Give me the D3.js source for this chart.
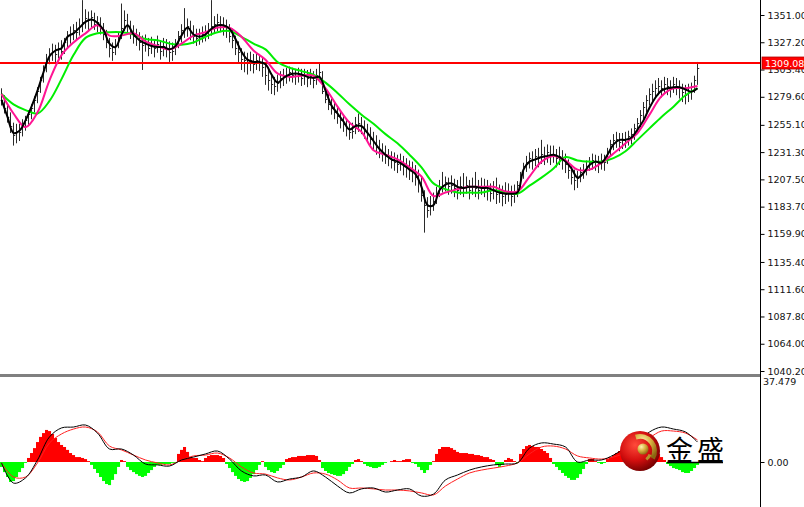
<!DOCTYPE html>
<html><head><meta charset="utf-8">
<script src="https://cdn.jsdelivr.net/npm/d3@7"></script>
<style>html,body{margin:0;padding:0;background:#fff;overflow:hidden}</style>
</head><body>
<svg id="c" width="804" height="507"></svg>
<script>
// ---------- DATA ----------
const high = [
1287,1281,1274,1266,1257,1256,1256,1260,1263,1268,
1273,1280,1288,1297,1307,1317,1322,1326,1325,1327,
1329,1331,1337,1341,1343,1345,1348,1364,1356,1354,
1355,1353,1350,1349,1344,1338,1331,1327,1330,1336,
1361,1355,1352,1346,1342,1339,1336,1333,1334,1331,
1332,1330,1333,1329,1331,1330,1328,1327,1330,1337,
1343,1357,1348,1346,1342,1339,1339,1341,1342,1344,
1364,1350,1352,1350,1349,1347,1343,1339,1333,1328,
1322,1319,1318,1319,1317,1318,1317,1314,1310,1304,
1300,1297,1299,1302,1304,1305,1306,1305,1304,1305,
1304,1304,1303,1304,1302,1304,1309,1302,1288,1282,
1278,1275,1271,1268,1264,1261,1258,1257,1262,1265,
1262,1259,1256,1253,1249,1246,1242,1239,1237,1234,
1232,1231,1229,1230,1228,1226,1224,1223,1220,1216,
1210,1198,1192,1193,1196,1201,1207,1214,1210,1209,
1211,1208,1207,1210,1213,1210,1207,1209,1214,1207,
1209,1208,1207,1204,1206,1209,1203,1202,1205,1204,
1202,1203,1206,1214,1222,1228,1231,1232,1234,1235,
1242,1236,1238,1237,1237,1234,1236,1233,1230,1225,
1220,1216,1215,1218,1221,1224,1227,1230,1229,1228,
1230,1229,1235,1242,1247,1249,1248,1248,1249,1250,
1252,1256,1261,1268,1275,1281,1287,1291,1294,1296,
1294,1297,1296,1294,1297,1296,1294,1291,1290,1291,
1292,1298,1310];
const low = [
1272,1265,1257,1248,1237,1239,1241,1245,1250,1255,
1260,1266,1274,1283,1292,1301,1308,1311,1309,1313,
1312,1317,1323,1326,1329,1330,1333,1336,1339,1338,
1340,1338,1336,1334,1329,1322,1314,1311,1316,1322,
1330,1337,1335,1330,1326,1324,1320,1303,1319,1315,
1317,1314,1318,1312,1315,1314,1310,1311,1316,1322,
1327,1331,1332,1329,1326,1324,1325,1327,1328,1330,
1333,1335,1337,1336,1333,1331,1327,1322,1316,1310,
1303,1301,1299,1302,1300,1303,1302,1297,1290,1285,
1282,1281,1284,1287,1289,1291,1293,1292,1290,1292,
1289,1290,1288,1290,1287,1290,1293,1282,1274,1268,
1264,1260,1256,1252,1249,1245,1242,1243,1247,1249,
1247,1243,1240,1237,1233,1229,1226,1223,1221,1219,
1217,1215,1213,1215,1211,1209,1207,1205,1202,1196,
1188,1161,1174,1176,1180,1186,1192,1196,1197,1194,
1195,1192,1190,1194,1192,1195,1190,1194,1192,1190,
1194,1192,1189,1188,1190,1186,1187,1184,1186,1188,
1184,1187,1192,1200,1208,1214,1217,1216,1219,1218,
1221,1220,1222,1220,1222,1218,1220,1216,1213,1208,
1203,1198,1200,1205,1208,1211,1215,1216,1215,1213,
1216,1215,1221,1228,1233,1235,1232,1234,1235,1237,
1238,1242,1247,1253,1260,1266,1272,1276,1279,1281,
1279,1283,1281,1279,1283,1281,1278,1275,1273,1275,
1277,1283,1290];
const close = [
1277,1270,1262,1254,1246,1250,1249,1256,1259,1265,
1270,1277,1285,1294,1303,1313,1316,1320,1317,1322,
1320,1327,1333,1334,1338,1336,1341,1345,1348,1347,
1349,1343,1345,1340,1334,1327,1322,1319,1325,1331,
1340,1347,1341,1338,1333,1331,1327,1325,1327,1322,
1325,1322,1326,1320,1324,1322,1319,1320,1326,1333,
1338,1340,1341,1336,1333,1331,1333,1334,1336,1338,
1341,1343,1345,1343,1341,1338,1333,1329,1322,1319,
1313,1312,1310,1312,1308,1312,1310,1306,1299,1294,
1291,1289,1292,1296,1298,1299,1301,1299,1298,1299,
1296,1298,1296,1298,1294,1299,1301,1285,1278,1273,
1270,1266,1263,1259,1256,1252,1249,1250,1256,1257,
1254,1250,1247,1243,1240,1236,1233,1230,1228,1226,
1224,1223,1221,1223,1219,1217,1216,1214,1210,1205,
1194,1185,1181,1184,1189,1196,1202,1203,1205,1202,
1203,1200,1198,1202,1200,1203,1198,1202,1200,1198,
1202,1200,1198,1196,1198,1195,1196,1193,1195,1196,
1193,1196,1203,1211,1219,1223,1226,1224,1228,1226,
1230,1228,1231,1228,1230,1226,1228,1224,1221,1216,
1210,1207,1209,1214,1216,1219,1223,1224,1223,1221,
1224,1223,1231,1238,1242,1243,1240,1242,1243,1245,
1247,1252,1257,1264,1271,1277,1282,1285,1287,1289,
1287,1291,1289,1287,1291,1289,1287,1284,1281,1284,
1285,1294,1305];

// moving averages (sampled: fast every 2 bars, mid/slow every 4 bars)
const maFastStep = 2;
const maFast = [
1277,1262,1248,1250,1259,1271,1285,1301,1315,1320,
1322,1332,1335,1340,1345,1347,1344,1338,1326,1323,
1334,1342,1334,1329,1326,1324,1323,1323,1321,1324,
1333,1340,1334,1332,1334,1339,1342,1342,1339,1330,
1319,1312,1310,1310,1308,1299,1292,1296,1299,1300,
1299,1297,1296,1297,1285,1272,1265,1258,1251,1254,
1254,1248,1241,1234,1229,1225,1223,1220,1216,1212,
1201,1185,1185,1198,1203,1204,1201,1200,1201,1201,
1200,1200,1198,1196,1195,1195,1196,1216,1223,1225,
1227,1228,1229,1227,1223,1217,1209,1213,1220,1223,
1222,1229,1238,1242,1242,1244,1251,1259,1270,1279,
1285,1287,1288,1288,1286,1284,1287];
const maStep = 4;
const maMid = [
1282,1265,1253,1266,1294,1316,1327,1335,1342,1333,
1333,1335,1328,1324,1321,1326,1333,1336,1340,1340,
1332,1320,1312,1300,1297,1298,1298,1287,1271,1257,
1249,1233,1229,1225,1218,1210,1193,1196,1199,1201,
1201,1201,1197,1197,1210,1223,1228,1224,1216,1216,
1222,1230,1239,1248,1264,1280,1287,1287,1289];
const maSlow = [
1282,1273,1268,1265,1276,1295,1316,1331,1335,1336,
1336,1334,1330,1329,1326,1325,1327,1332,1336,1337,
1332,1326,1321,1310,1305,1302,1299,1292,1283,1273,
1264,1256,1247,1239,1229,1218,1204,1199,1196,1196,
1196,1198,1196,1195,1202,1209,1217,1227,1224,1223,
1223,1226,1232,1242,1252,1262,1271,1281,1287];

// MACD panel
const macdHist = [
-2.2,-4.5,-6.7,-8.9,-8.5,-6.7,-4.5,-2.7,-0.4,1.8,
4.0,6.2,8.9,11.2,12.9,14.3,13.8,12.5,10.7,8.9,
7.6,6.7,5.4,4.0,3.1,2.2,2.2,1.8,1.3,0.4,
-1.3,-3.1,-4.9,-6.7,-8.5,-9.8,-10.3,-8.0,-5.4,-2.2,
0.9,0.4,-2.2,-3.6,-4.5,-5.4,-6.2,-6.7,-6.2,-4.9,
-3.6,-2.2,-1.3,-1.3,-0.9,-0.9,-0.9,-0.4,-0.4,3.6,
5.4,6.7,4.5,2.2,1.8,1.8,0.9,0.4,1.8,2.7,
3.1,3.1,3.1,2.7,1.8,-0.9,-2.7,-4.5,-6.2,-7.6,
-8.5,-8.9,-8.5,-7.1,-5.4,-3.6,-1.3,0.4,-2.2,-3.6,
-4.5,-4.9,-4.0,-2.7,-1.3,1.3,1.8,2.2,2.2,2.7,
2.7,2.7,3.1,3.1,3.1,2.7,0.9,-2.7,-4.0,-4.9,
-5.4,-5.8,-6.2,-6.2,-5.4,-4.0,-2.2,-0.9,0.9,1.3,
0.4,-0.9,-1.8,-2.2,-2.7,-2.7,-2.2,-1.3,-0.4,0,
0.4,0.9,0.4,0.4,0.9,1.3,1.3,-0.4,-0.9,-2.2,
-3.6,-4.9,-3.6,-1.3,0.4,3.6,5.8,6.7,6.7,6.7,
6.2,5.4,4.5,4.0,4.0,4.0,3.6,3.6,3.1,3.1,
2.7,2.2,2.2,1.3,0.9,-1.3,-2.2,-1.3,0.9,1.8,
1.3,0.4,-0.4,3.6,5.8,7.1,7.6,7.1,6.7,6.7,
5.8,4.9,4.0,1.8,-0.9,-2.2,-3.6,-4.9,-6.2,-7.1,
-8.0,-8.0,-7.1,-5.4,-3.1,-0.9,1.3,1.3,0.4,-0.4,
-0.9,-0.4,1.3,2.2,3.1,4.0,4.9,5.4,5.8,6.2,
6.7,7.1,7.1,7.1,7.1,6.7,6.2,5.4,4.9,3.6,
2.2,0.9,-0.9,-1.8,-2.7,-3.1,-3.6,-4.5,-4.9,-4.9,
-4.0,-2.7,-1.3];
const macdStep = 4;
const macdMain = [
-0.4,-9.4,-7.1,0.9,11.2,15.2,15.6,16.5,12.9,5.8,
5.8,3.1,-0.9,-1.3,-1.8,0.9,2.2,3.6,4.9,1.3,
-4.0,-6.2,-5.8,-8.9,-7.6,-6.7,-4.0,-6.7,-10.7,-13.8,
-12.0,-11.6,-13.4,-12.5,-12.0,-15.2,-14.3,-8.0,-5.8,-3.6,
-2.2,-1.3,-0.9,-0.4,6.2,8.5,8.0,6.7,0.0,0.9,
0.9,3.1,6.2,8.9,13.4,15.6,14.7,13.4,8.9];
const macdSignal = [
-0.4,-6.7,-6.7,-0.4,8.5,12.5,14.7,15.6,13.4,7.1,
5.4,3.1,0.9,-0.4,-1.3,0.9,2.7,3.1,4.0,1.8,
-2.2,-4.9,-5.4,-7.1,-8.0,-6.7,-4.9,-5.4,-8.0,-11.6,
-11.6,-12.0,-12.5,-12.5,-12.9,-13.8,-14.7,-10.7,-7.6,-4.9,
-3.6,-2.7,-1.8,-0.4,3.6,6.7,7.1,5.8,2.7,1.8,
1.3,2.2,4.0,6.2,10.7,13.8,13.8,12.9,9.8];

const priceTickLabels = ["1351.00","1327.20","1303.40","1279.60","1255.10","1231.30","1207.50",
  "1183.70","1159.90","1135.40","1111.60","1087.80","1064.00","1040.20"];
const lastPrice = 1309.08;
const macdTopLabel = "37.479";
const macdZeroLabel = "0.00";
const logoText = "金盛";

// ---------- LAYOUT ----------
const W = 804, H = 507, axisX = 760;
const mainTop = 0, mainBottom = 374;
const macdTopY = 377;

const svg = d3.select("#c");
const defs = svg.append("defs");
defs.append("clipPath").attr("id","clipMain").append("rect")
  .attr("x",0).attr("y",mainTop).attr("width",axisX).attr("height",mainBottom-mainTop);
defs.append("clipPath").attr("id","clipMacd").append("rect")
  .attr("x",0).attr("y",macdTopY).attr("width",axisX).attr("height",H-macdTopY);

const N = close.length;
const x = d3.scaleLinear().domain([0, N-1]).range([1.5, 1.5 + 3*(N-1)]);
const yP = d3.scaleLinear().domain([1040.2, 1351.0]).range([371, 15]);
const yM = d3.scaleLinear().domain([0, 37.479]).range([462, 378]);

// ---------- MAIN PANEL ----------
const gMain = svg.append("g").attr("clip-path","url(#clipMain)");

// price bars
const bars = gMain.append("g");
bars.selectAll("line").data(close).join("line")
  .attr("x1",(d,i)=>x(i)).attr("x2",(d,i)=>x(i))
  .attr("y1",(d,i)=>yP(high[i])).attr("y2",(d,i)=>yP(low[i]))
  .attr("stroke","#2a2a2a").attr("stroke-width",1);
bars.selectAll("rect").data(close).join("rect")
  .attr("x",(d,i)=>x(i)+0.5).attr("y",d=>Math.round(yP(d)))
  .attr("width",1.2).attr("height",1).attr("fill","#2a2a2a");

// red horizontal price line
gMain.append("line").attr("x1",0).attr("x2",axisX)
  .attr("y1",yP(lastPrice)).attr("y2",yP(lastPrice))
  .attr("stroke","#ff0000").attr("stroke-width",2);

// moving averages
function maLine(step){
  return d3.line().x((d,k)=>x(k*step)).y(d=>yP(d)).curve(d3.curveCatmullRom.alpha(0.5));
}
gMain.append("path").datum(maSlow).attr("d",maLine(maStep))
  .attr("fill","none").attr("stroke","#00ee00").attr("stroke-width",2);
gMain.append("path").datum(maMid).attr("d",maLine(maStep))
  .attr("fill","none").attr("stroke","#ff1493").attr("stroke-width",2);
gMain.append("path").datum(maFast).attr("d",maLine(maFastStep))
  .attr("fill","none").attr("stroke","#000").attr("stroke-width",2);

// separator
svg.append("rect").attr("x",0).attr("y",mainBottom).attr("width",axisX).attr("height",3).attr("fill","#808080");

// ---------- MACD PANEL ----------
const gMacd = svg.append("g").attr("clip-path","url(#clipMacd)");
gMacd.selectAll("rect").data(macdHist).join("rect")
  .attr("x",(d,i)=>x(i)-1.5).attr("width",3.05)
  .attr("y",d=>yM(Math.max(d,0))).attr("height",d=>Math.abs(yM(d)-yM(0)))
  .attr("fill",d=>d>=0?"#ff0000":"#00ff00");
function macdLine(){
  return d3.line().x((d,k)=>x(k*macdStep)).y(d=>yM(d)).curve(d3.curveCatmullRom.alpha(0.5));
}
gMacd.append("path").datum(macdSignal).attr("d",macdLine())
  .attr("fill","none").attr("stroke","#ff2020").attr("stroke-width",1);
gMacd.append("path").datum(macdMain).attr("d",macdLine())
  .attr("fill","none").attr("stroke","#000").attr("stroke-width",1);

// logo
const rg = defs.append("radialGradient").attr("id","sph").attr("cx","38%").attr("cy","35%").attr("r","70%");
rg.append("stop").attr("offset","0%").attr("stop-color","#ff4a3a");
rg.append("stop").attr("offset","55%").attr("stop-color","#d40f0f");
rg.append("stop").attr("offset","100%").attr("stop-color","#6e0000");
const gg = defs.append("radialGradient").attr("id","gold").attr("cx","35%").attr("cy","30%").attr("r","75%");
gg.append("stop").attr("offset","0%").attr("stop-color","#fff2b0");
gg.append("stop").attr("offset","50%").attr("stop-color","#d8b040");
gg.append("stop").attr("offset","100%").attr("stop-color","#8a6410");
const logo = svg.append("g").attr("transform","translate(640,451)");
logo.append("circle").attr("r",20).attr("fill","url(#sph)");
logo.append("path").attr("d",d3.arc().innerRadius(12).outerRadius(17)
  .startAngle(-0.3).endAngle(2.1)()).attr("fill","url(#gold)");
logo.append("path").attr("d",d3.arc().innerRadius(9).outerRadius(12)
  .startAngle(1.9).endAngle(2.5)()).attr("fill","#b8902a");
logo.append("circle").attr("cx",3).attr("cy",-2).attr("r",5.5).attr("fill","url(#gold)");
svg.append("text").attr("x",666).attr("y",460)
  .attr("font-family","'Noto Sans CJK SC','Noto Sans CJK JP',sans-serif")
  .attr("font-size",27).attr("letter-spacing",4).attr("fill","#000").text(logoText);
svg.append("line").attr("x1",667).attr("x2",723).attr("y1",462.5).attr("y2",462.5)
  .attr("stroke","#000").attr("stroke-width",1.5);

// ---------- RIGHT AXIS ----------
svg.append("line").attr("x1",axisX+0.5).attr("x2",axisX+0.5).attr("y1",0).attr("y2",H)
  .attr("stroke","#000").attr("stroke-width",1);
const fontFam = "'DejaVu Sans', Verdana, sans-serif";
const axisG = svg.append("g").attr("transform",`translate(${axisX+0.5},0)`);
const priceAxis = d3.axisRight(yP)
  .tickValues(priceTickLabels.map(Number))
  .tickFormat((d,i)=>priceTickLabels[i])
  .tickSize(4).tickPadding(3);
axisG.call(priceAxis);
axisG.select(".domain").remove();
axisG.selectAll("text").attr("font-family",fontFam).attr("font-size",9.5).attr("fill","#111");
axisG.selectAll("line").attr("stroke","#000");

// MACD axis
const macdAxisG = svg.append("g").attr("transform",`translate(${axisX+0.5},0)`);
macdAxisG.call(d3.axisRight(yM).tickValues([0]).tickFormat(()=>macdZeroLabel).tickSize(4).tickPadding(3));
macdAxisG.select(".domain").remove();
macdAxisG.selectAll("text").attr("font-family",fontFam).attr("font-size",9.5).attr("fill","#111");
svg.append("text").attr("x",763).attr("y",385).attr("font-family",fontFam)
  .attr("font-size",9.5).attr("fill","#111").text(macdTopLabel);

// last price label
const lpY = yP(lastPrice);
svg.append("rect").attr("x",762).attr("y",lpY-6).attr("width",44).attr("height",12)
  .attr("fill","#ff0000").attr("stroke","#b00000").attr("stroke-width",0.8);
svg.append("text").attr("x",765).attr("y",lpY+3.5).attr("font-family",fontFam)
  .attr("font-size",9.5).attr("fill","#fff").text(lastPrice.toFixed(2));
</script>
</body></html>
